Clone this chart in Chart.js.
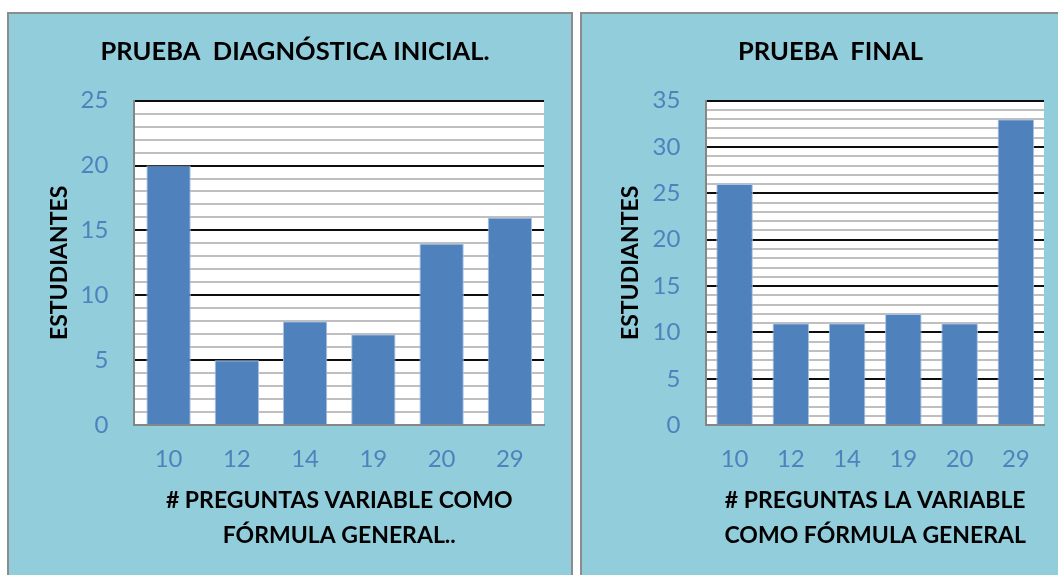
<!DOCTYPE html>
<html>
<head>
<meta charset="utf-8">
<script src="https://cdn.jsdelivr.net/npm/chart.js@4.4.1/dist/chart.umd.min.js"></script>
<style>
    html, body { margin: 0; padding: 0; background: #fff; overflow: hidden; }
    body { width: 1058px; height: 575px; position: relative; }
    .panel {
        position: absolute;
        top: 12px;
        height: 600px;
        background: #92CDDC;
        border: 2px solid #8c8c8c;
        box-sizing: border-box;
    }
    #panelInicial { left: 7px; width: 566px; }
    #panelFinal { left: 580px; width: 500px; }
    .panel canvas { position: absolute; left: 0; top: 0; }
</style>
</head>
<body>
<div class="panel" id="panelInicial"><canvas id="chartInicial"></canvas></div>
<div class="panel" id="panelFinal"><canvas id="chartFinal"></canvas></div>

<script>
// Datos
const preguntas = ['10', '12', '14', '19', '20', '29'];
const estudiantesInicial = [20, 5, 8, 7, 14, 16];
const estudiantesFinal = [26, 11, 11, 12, 11, 33];

const FONT = 'Lato, "Open Sans", sans-serif';
const BLUE = '#4F81BD';

// White plot background behind the gridlines
const plotBackground = {
    id: 'plotBackground',
    beforeDraw(chart) {
        const { ctx, chartArea } = chart;
        ctx.save();
        ctx.fillStyle = '#ffffff';
        ctx.fillRect(chartArea.left, chartArea.top, chartArea.right - chartArea.left, chartArea.bottom - chartArea.top);
        ctx.restore();
    }
};

function makeChart(canvasId, width, height, title, values, yMax, xTitle, padding, yTitleGap) {
    const canvas = document.getElementById(canvasId);
    canvas.width = width;
    canvas.height = height;
    canvas.style.width = width + 'px';
    canvas.style.height = height + 'px';

    return new Chart(canvas, {
        type: 'bar',
        data: {
            labels: preguntas,
            datasets: [{
                data: values,
                backgroundColor: BLUE,
                borderColor: '#a9c2e2',
                borderWidth: 1,
                barPercentage: 0.65,
                categoryPercentage: 1
            }]
        },
        plugins: [plotBackground],
        options: {
            responsive: false,
            animation: false,
            layout: { padding: padding },
            plugins: {
                legend: { display: false },
                tooltip: { enabled: false },
                title: {
                    display: true,
                    text: title,
                    color: '#000',
                    font: { family: FONT, size: 25.5, weight: 'bold' },
                    padding: { top: 22, bottom: 34 }
                }
            },
            scales: {
                y: {
                    min: 0,
                    max: yMax,
                    ticks: {
                        stepSize: 1,
                        autoSkip: false,
                        color: BLUE,
                        font: { family: FONT, size: 24 },
                        padding: 26,
                        callback: v => (v % 5 === 0 ? v : '')
                    },
                    grid: {
                        drawTicks: false,
                        lineWidth: 2,
                        color: ctx => {
                            const v = ctx.tick ? ctx.tick.value : 0;
                            if (v === 0) return 'rgba(0,0,0,0)';
                            return v % 5 === 0 ? '#0d0d0d' : '#bfbfbf';
                        }
                    },
                    border: { color: '#868686', width: 2 },
                    title: {
                        display: true,
                        text: 'ESTUDIANTES',
                        color: '#000',
                        font: { family: FONT, size: 23, weight: 'bold' },
                        padding: { top: 0, bottom: yTitleGap }
                    }
                },
                x: {
                    ticks: {
                        color: BLUE,
                        font: { family: FONT, size: 24 },
                        padding: 20
                    },
                    grid: { display: false, drawTicks: false },
                    border: { color: '#868686', width: 2 },
                    title: {
                        display: true,
                        text: xTitle,
                        color: '#000',
                        font: { family: FONT, size: 23, weight: 'bold', lineHeight: 35 / 23 },
                        padding: { top: -11, bottom: 0 }
                    }
                }
            }
        }
    });
}

makeChart('chartInicial', 562, 570, 'PRUEBA  DIAGNÓSTICA INICIAL.', estudiantesInicial, 25,
    ['# PREGUNTAS VARIABLE COMO', 'FÓRMULA GENERAL..'],
    { left: 37, right: 27, top: 0, bottom: 31 }, -19);

makeChart('chartFinal', 476, 570, 'PRUEBA  FINAL', estudiantesFinal, 35,
    ['# PREGUNTAS LA VARIABLE', 'COMO FÓRMULA GENERAL'],
    { left: 35, right: 14, top: 0, bottom: 31 }, -18);
</script>
</body>
</html>
